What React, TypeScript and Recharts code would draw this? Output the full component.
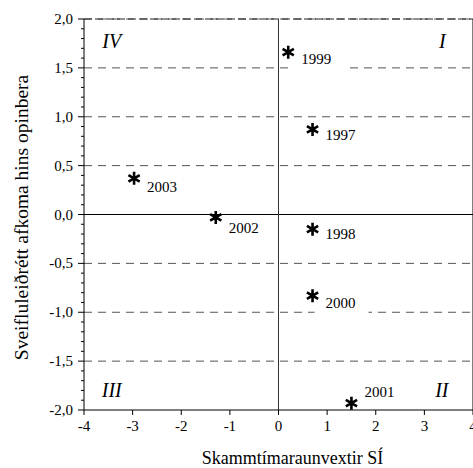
import { ScatterChart, Scatter, XAxis, YAxis, CartesianGrid, ReferenceLine, ReferenceDot, Label } from 'recharts';

// Short-term real rate (x) vs cyclically adjusted public balance (y)
const years = ['1997', '1998', '1999', '2000', '2001', '2002', '2003'];
const realRates = [0.7, 0.7, 0.2, 0.7, 1.5, -1.29, -2.97];
const adjBalance = [0.87, -0.15, 1.66, -0.83, -1.93, -0.03, 0.37];

const xTicks = [-4, -3, -2, -1, 0, 1, 2, 3, 4];
const yMajor = [-2, -1.5, -1, -0.5, 0, 0.5, 1, 1.5, 2];
const yDashed = [-1.5, -1, -0.5, 0.5, 1, 1.5, 2];
// every 0.1 for the minor ticks
const yTicks = Array.from({ length: 41 }, (_, i) => Math.round((-2 + i * 0.1) * 10) / 10);

const quadrants = [
  { name: 'IV', x: -3.43, y: 1.78 },
  { name: 'I', x: 3.37, y: 1.78 },
  { name: 'III', x: -3.43, y: -1.8 },
  { name: 'II', x: 3.36, y: -1.8 },
];

// label placement (px below the marker centre)
const LABEL_DY: Record<string, number> = {
  '1997': 11, '1998': 10, '1999': 12, '2000': 12, '2001': -6, '2002': 16, '2003': 14,
};
const KNOCKOUT = ['1999', '2000'];

const FONT = 'Liberation Serif, Times New Roman, serif';

const points = years.map((year, i) => ({ year, x: realRates[i], y: adjBalance[i] }));

function StarPoint(props: any) {
  const { cx, cy, payload } = props;
  const r = 6.5;
  const dx = r * Math.cos(Math.PI / 6);
  const dy = r * Math.sin(Math.PI / 6);
  const ly = LABEL_DY[payload.year] ?? 12;
  return (
    <g>
      {KNOCKOUT.includes(payload.year) && (
        <rect x={cx + 2} y={cy + 13} width={54} height={6} fill="#fff" />
      )}
      <path
        d={`M${cx},${cy - r}L${cx},${cy + r}M${cx - dx},${cy - dy}L${cx + dx},${cy + dy}M${cx - dx},${cy + dy}L${cx + dx},${cy - dy}`}
        stroke="#000"
        strokeWidth={2.6}
      />
      <text x={cx + 13} y={cy + ly} fontSize={15} fontFamily={FONT} fill="#000">
        {payload.year}
      </text>
    </g>
  );
}

function YTick(props: any) {
  const { x, y, payload } = props;
  const v = payload.value as number;
  const major = yMajor.some((m) => Math.abs(m - v) < 1e-6);
  return (
    <g>
      <line x1={x - (major ? 6 : 3)} x2={x} y1={y} y2={y} stroke="#000" />
      {major && (
        <text x={x - 11} y={y} dy={5} textAnchor="end" fontSize={15} fontFamily={FONT} fill="#000">
          {v.toFixed(1).replace('.', ',')}
        </text>
      )}
    </g>
  );
}

export default function App() {
  return (
    <div style={{ position: 'absolute', left: 0, top: 0, width: 473, height: 468, overflow: 'hidden', background: '#fff' }}>
      <ScatterChart width={490} height={468} margin={{ top: 19, right: 17, bottom: 0, left: 0 }}>
        <CartesianGrid vertical={false} horizontalValues={yDashed} stroke="#555" strokeDasharray="8 6" />
        <XAxis
          type="number"
          dataKey="x"
          domain={[-4, 4]}
          ticks={xTicks}
          interval={0}
          height={58}
          tickSize={5}
          tickMargin={5}
          stroke="#000"
          tick={{ fill: '#000', fontSize: 15, fontFamily: FONT }}
        >
          <Label
            content={(p: any) => {
              const vb = p.viewBox;
              return (
                <text x={vb.x + vb.width / 2 + 14} y={vb.y + 54} textAnchor="middle" fontSize={18} fontFamily={FONT} fill="#000">
                  Skammtímaraunvextir SÍ
                </text>
              );
            }}
          />
        </XAxis>
        <YAxis
          type="number"
          dataKey="y"
          domain={[-2, 2]}
          ticks={yTicks}
          interval={0}
          width={84}
          tickSize={0}
          tickMargin={0}
          stroke="#000"
          tick={<YTick />}
        >
          <Label
            content={(p: any) => {
              const vb = p.viewBox;
              const cy = vb.y + vb.height / 2 + 3;
              return (
                <text x={22} y={cy} transform={`rotate(-90, 22, ${cy})`} dy={6} textAnchor="middle" fontSize={19.5} fontFamily={FONT} fill="#000">
                  Sveifluleiðrétt afkoma hins opinbera
                </text>
              );
            }}
          />
        </YAxis>
        <ReferenceLine y={2} stroke="#222" strokeDasharray="8 3" />
        <ReferenceLine y={0} stroke="#000" />
        <ReferenceLine x={0} stroke="#333" />
        <ReferenceLine x={4} stroke="#000" />
        {quadrants.map((q) => (
          <ReferenceDot
            key={q.name}
            x={q.x}
            y={q.y}
            r={0}
            shape={(p: any) => (
              <text x={p.cx} y={p.cy} dy={7} textAnchor="middle" fontSize={20} fontStyle="italic" fontFamily={FONT} fill="#000">
                {q.name}
              </text>
            )}
          />
        ))}
        <Scatter data={points} shape={<StarPoint />} isAnimationActive={false} />
      </ScatterChart>
    </div>
  );
}
